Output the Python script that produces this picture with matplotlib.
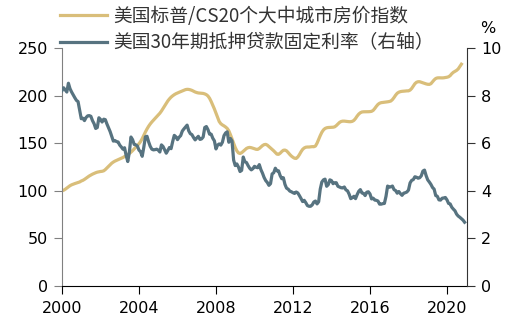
import numpy as np
import matplotlib
matplotlib.use("Agg")
import matplotlib.pyplot as plt

# S&P/Case-Shiller 20-city index, monthly, Jan 2000 - Oct 2020
cs20 = [
    100.0, 100.6, 101.6, 102.9, 104.2, 105.4, 106.3, 107.0, 107.6, 108.2, 108.7, 109.3,
    110.3, 111.0, 112.0, 113.2, 114.4, 115.6, 116.6, 117.5, 118.3, 119.0, 119.6, 120.0,
    120.3, 120.5, 121.0, 122.3, 124.0, 125.8, 127.5, 129.0, 130.2, 131.2, 132.0, 132.8,
    133.5, 134.2, 135.0, 136.0, 137.0, 138.0, 139.2, 140.6, 142.2, 144.0, 145.8, 147.5,
    149.5, 151.8, 154.8, 158.3, 161.8, 165.0, 167.8, 170.2, 172.3, 174.2, 176.0, 177.8,
    179.6, 181.5, 183.8, 186.5, 189.3, 192.0, 194.5, 196.6, 198.4, 199.8, 201.0, 202.0,
    202.8, 203.5, 204.2, 205.0, 205.7, 206.3, 206.6, 206.5, 206.1, 205.5, 204.6, 203.8,
    203.2, 202.8, 202.6, 202.5, 202.3, 201.8, 201.0, 199.6, 197.2, 193.8, 190.0, 186.0,
    181.5, 177.0, 172.8, 170.5, 169.2, 168.2, 167.0, 165.5, 163.0, 159.0, 154.5, 150.0,
    145.5, 142.0, 139.8, 139.2, 140.0, 141.5, 143.0, 144.5, 145.3, 145.6, 145.3, 144.8,
    144.2, 143.6, 143.5, 144.5, 146.0, 147.5, 148.5, 148.8, 148.0, 146.5, 145.0, 143.5,
    142.0, 140.2, 138.5, 138.3, 139.5, 141.2, 142.6, 142.8, 142.0, 140.2, 138.2, 136.5,
    135.2, 134.2, 134.0, 135.5, 138.0, 141.0, 143.5, 145.0, 145.8, 146.0, 146.0, 146.2,
    146.4, 146.3, 147.0, 150.0, 154.0, 158.0, 161.5, 164.0, 165.5, 166.2, 166.5, 166.6,
    166.7, 166.8, 167.2, 168.5, 170.2, 171.8, 172.8, 173.2, 173.2, 173.0, 172.8, 172.6,
    172.6, 173.0, 174.0, 176.0, 178.5, 180.6, 182.0, 182.8, 183.0, 183.0, 183.0, 183.1,
    183.2, 183.5, 184.5, 186.5, 188.8, 190.8, 192.0, 192.6, 192.8, 193.0, 193.2, 193.5,
    193.8, 194.3, 195.8, 198.0, 200.5, 202.5, 203.6, 204.2, 204.5, 204.6, 204.8, 205.0,
    205.0, 205.8, 207.5, 210.0, 212.5, 214.0, 214.6, 214.6, 214.0, 213.4, 212.8, 212.3,
    211.9, 211.8, 212.5, 214.5, 216.5, 218.0, 218.6, 218.7, 218.6, 218.6, 218.7, 219.0,
    219.3, 219.8, 221.0, 223.0, 224.5, 225.5, 226.5, 228.0, 230.5, 233.0,
]

# 30-year fixed mortgage rate (%), monthly, Jan 2000 - Dec 2020
mortgage = [
    8.21, 8.33, 8.24, 8.15, 8.52, 8.29, 8.15, 8.03, 7.91, 7.80, 7.75, 7.38,
    7.03, 7.05, 6.95, 7.08, 7.15, 7.16, 7.13, 6.95, 6.82, 6.62, 6.66, 7.07,
    7.00, 6.89, 7.01, 6.99, 6.81, 6.65, 6.49, 6.29, 6.09, 6.11, 6.07, 6.05,
    5.92, 5.84, 5.75, 5.81, 5.48, 5.23, 5.63, 6.26, 6.15, 5.95, 5.93, 5.88,
    5.71, 5.64, 5.45, 5.83, 6.27, 6.29, 6.06, 5.87, 5.75, 5.72, 5.73, 5.75,
    5.71, 5.63, 5.93, 5.86, 5.72, 5.58, 5.70, 5.82, 5.77, 6.07, 6.33, 6.27,
    6.15, 6.25, 6.32, 6.51, 6.60, 6.68, 6.76, 6.52, 6.40, 6.36, 6.24, 6.14,
    6.22, 6.29, 6.16, 6.18, 6.26, 6.66, 6.70, 6.57, 6.38, 6.38, 6.21, 6.10,
    5.76, 5.92, 5.97, 5.92, 6.04, 6.32, 6.43, 6.48, 6.04, 6.20, 6.09, 5.29,
    5.06, 5.13, 5.00, 4.81, 4.86, 5.42, 5.22, 5.19, 5.06, 4.95, 4.88, 4.93,
    5.03, 4.99, 4.97, 5.10, 4.89, 4.74, 4.56, 4.43, 4.35, 4.23, 4.30, 4.71,
    4.76, 4.95, 4.84, 4.84, 4.64, 4.51, 4.55, 4.27, 4.11, 4.07, 3.99, 3.96,
    3.92, 3.89, 3.95, 3.91, 3.80, 3.68, 3.55, 3.60, 3.50, 3.38, 3.35, 3.35,
    3.41, 3.53, 3.57, 3.45, 3.54, 4.07, 4.37, 4.46, 4.49, 4.19, 4.26, 4.46,
    4.43, 4.30, 4.34, 4.34, 4.19, 4.16, 4.13, 4.12, 4.16, 4.04, 4.00, 3.86,
    3.67, 3.71, 3.77, 3.67, 3.84, 3.98, 4.05, 3.91, 3.89, 3.80, 3.94, 3.96,
    3.87, 3.66, 3.69, 3.61, 3.60, 3.57, 3.44, 3.44, 3.46, 3.47, 3.77, 4.20,
    4.15, 4.17, 4.20, 4.05, 4.01, 3.90, 3.97, 3.88, 3.81, 3.90, 3.92, 3.95,
    4.03, 4.33, 4.44, 4.47, 4.59, 4.57, 4.53, 4.55, 4.63, 4.83, 4.87, 4.64,
    4.46, 4.37, 4.27, 4.14, 4.07, 3.80, 3.77, 3.62, 3.61, 3.69, 3.70, 3.72,
    3.62, 3.47, 3.45, 3.31, 3.23, 3.16, 3.02, 2.94, 2.89, 2.83, 2.77, 2.68,
]

label_cs = "美国标普/CS20个大中城市房价指数"
label_rate = "美国30年期抵押贷款固定利率（右轴）"
year_ticks = [2000, 2004, 2008, 2012, 2016, 2020]

gold = "#D9BE7A"
slate = "#577380"

plt.rcParams["font.family"] = ["DejaVu Sans", "Noto Sans CJK SC"]

t_cs = 2000 + np.arange(len(cs20)) / 12
t_rate = 2000 + np.arange(len(mortgage)) / 12

fig = plt.figure(figsize=(5.18, 3.3), dpi=100)
ax = fig.add_axes([0.1197, 0.1333, 0.7818, 0.7212])
ax2 = ax.twinx()

l1, = ax.plot(t_cs, cs20, color=gold, lw=2.3, label=label_cs)
l2, = ax2.plot(t_rate, mortgage, color=slate, lw=2.3, label=label_rate)

ax.set_xlim(2000, 2021.04)
ax.set_ylim(0, 250)
ax2.set_ylim(0, 10)
ax.set_xticks(year_ticks)
ax.set_yticks(range(0, 251, 50))
ax2.set_yticks(range(0, 11, 2))

for a in (ax, ax2):
    a.spines["top"].set_visible(False)
ax.spines["right"].set_visible(False)
ax2.spines["left"].set_visible(False)
ax2.spines["bottom"].set_visible(False)
ax.spines["left"].set_color("#808080")
ax.spines["bottom"].set_color("black")
ax2.spines["right"].set_color("#333333")

ax.tick_params(axis="y", length=6, color="#808080", labelsize=11.5, pad=4)
ax.tick_params(axis="x", length=6, color="black", labelsize=11.5, pad=5)
ax2.tick_params(axis="y", length=6, color="#333333", labelsize=11.5, pad=4)

ax2.text(1.052, 1.084, "%", transform=ax2.transAxes, fontsize=11.5,
         ha="center", va="center")

leg = fig.legend(handles=[l1, l2], loc="upper left", bbox_to_anchor=(0.1158, 0.983),
                 frameon=False, borderpad=0.0, borderaxespad=0.0,
                 handlelength=2.5, handletextpad=0.32, labelspacing=0.3,
                 prop={"family": ["Noto Sans CJK SC"], "size": 13.5})
for txt in leg.get_texts():
    txt.set_color("#333333")

fig.savefig("out.png", dpi=100)
